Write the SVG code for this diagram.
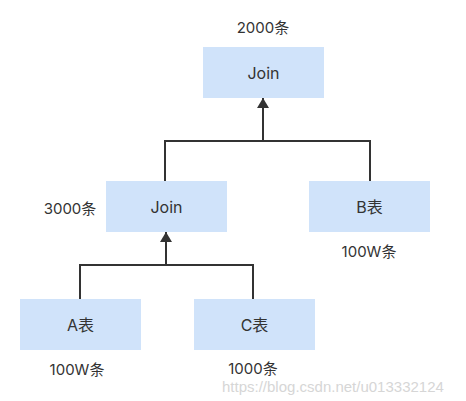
<svg xmlns="http://www.w3.org/2000/svg" width="466" height="401" viewBox="0 0 466 401">
<style>
.box{fill:#d0e3fa;}
.t{font-family:Inter,"Noto Sans CJK SC",sans-serif;font-size:15px;fill:#333;text-anchor:middle;}
.l{font-size:16px;}
.ln{stroke:#333;stroke-width:2;fill:none;}
.wm{font-family:"Liberation Sans","Noto Sans",sans-serif;font-size:15px;fill:#d6d6d6;}
</style>
<defs>
<marker id="ah" viewBox="0 0 10 12" refX="10" refY="6" markerWidth="10" markerHeight="12" markerUnits="userSpaceOnUse" orient="auto">
<path d="M0,0 L10,6 L0,12 Z" fill="#333"/>
</marker>
</defs>
<rect width="466" height="401" fill="#fff"/>
<g id="connectors">
<path class="ln" d="M165,181 V141 H370 V181"/>
<path class="ln" d="M263,141 V98" marker-end="url(#ah)"/>
<path class="ln" d="M80,299 V265 H253 V299"/>
<path class="ln" d="M166,265 V232" marker-end="url(#ah)"/>
</g>
<g id="join-top">
<rect class="box" x="203" y="47" width="121" height="51"/>
<text class="t l" x="263.5" y="79">Join</text>
<text class="t" x="263" y="33">2000条</text>
</g>
<g id="join-mid">
<rect class="box" x="106" y="181" width="121" height="51"/>
<text class="t l" x="166.5" y="213">Join</text>
<text class="t" x="70" y="214">3000条</text>
</g>
<g id="b-table">
<rect class="box" x="309" y="181" width="121" height="51"/>
<text class="t l" x="369.5" y="213">B表</text>
<text class="t" x="369" y="257">100W条</text>
</g>
<g id="a-table">
<rect class="box" x="20" y="299" width="121" height="51"/>
<text class="t l" x="80.5" y="331">A表</text>
<text class="t" x="77" y="375">100W条</text>
</g>
<g id="c-table">
<rect class="box" x="194" y="299" width="121" height="51"/>
<text class="t l" x="254.5" y="331">C表</text>
<text class="t" x="253" y="374">1000条</text>
</g>
<text class="wm" x="222" y="392">https://blog.csdn.net/u013332124</text>
</svg>
